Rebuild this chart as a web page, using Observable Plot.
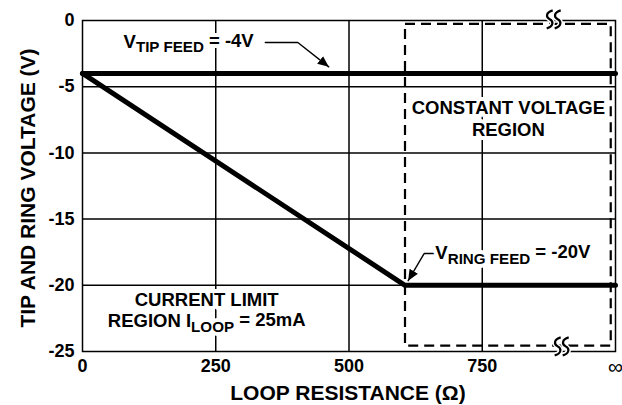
<!DOCTYPE html>
<html>
<head>
<meta charset="utf-8">
<script src="https://cdn.jsdelivr.net/npm/d3@7"></script>
<script src="https://cdn.jsdelivr.net/npm/@observablehq/plot@0.6"></script>
<style>
  html, body { margin: 0; padding: 0; background: #fff; }
  #chart svg { font-family: "Liberation Sans", Arial, Helvetica, sans-serif; font-weight: bold; }
</style>
</head>
<body>
<div id="chart"></div>
<script>
// ---- data ----
const xTicks = [0, 250, 500, 750, 1000];
const xTickLabels = ["0", "250", "500", "750", "\u221E"];
const yTicks = [0, -5, -10, -15, -20, -25];
const yTickLabels = ["0", "-5", "-10", "-15", "-20", "-25"];

// tip feed (constant -4V)
const tipX = [0, 1000];
const tipV = [-4, -4];
// ring feed (current limited slope, then constant -20V)
const ringX = [0, 605, 1000];
const ringV = [-4, -20, -20];

// constant voltage region box
const boxX = [606, 992];
const boxV = [-0.3, -24.6];

// annotation leaders
const tipLeaderX = [343, 404, 462];
const tipLeaderV = [-1.66, -1.66, -3.5];
const ringLeaderX = [660, 641, 611];
const ringLeaderV = [-17.6, -17.6, -19.65];

// feed labels (left-anchored) and region labels (centred)
const feedLabels = [
  {x: 77, v: -1.6, text: "V{TIP FEED} = -4V"},
  {x: 662, v: -17.6, text: "V{RING FEED} = -20V"}
];
const regionLabels = [
  {x: 799, v: -6.65, text: "CONSTANT VOLTAGE"},
  {x: 799, v: -8.25, text: "REGION"},
  {x: 233, v: -21.1, text: "CURRENT LIMIT"},
  {x: 233, v: -22.7, text: "REGION I{LOOP} = 25mA"}
];
// axis-break marks on the box
const breakX = [885, 900];
const breakV = [0.05, -24.65];

// ---- build ----
const tip = tipX.map((x, i) => ({x, v: tipV[i]}));
const ring = ringX.map((x, i) => ({x, v: ringV[i]}));
const leaders = [
  ...tipLeaderX.map((x, i) => ({x, v: tipLeaderV[i], k: "tip"})),
  ...ringLeaderX.map((x, i) => ({x, v: ringLeaderV[i], k: "ring"}))
];
const breaks = breakX.map((x, i) => ({x, v: breakV[i]}));

const textOpts = {x: "x", y: "v", text: "text", fontSize: 18.5, fontWeight: "bold"};
const halo = {fill: "white", stroke: "white", strokeWidth: 8};

const plot = Plot.plot({
  width: 622,
  height: 405,
  marginLeft: 82,
  marginRight: 7,
  marginTop: 20,
  marginBottom: 54,
  style: {fontSize: "18px", fontFamily: "Liberation Sans, Arial, sans-serif", fontWeight: "bold", color: "black", background: "white"},
  x: {domain: [0, 1000], ticks: xTicks, tickFormat: d => xTickLabels[xTicks.indexOf(d)], tickSize: 0, tickPadding: 8, label: null},
  y: {domain: [-25, 0], ticks: yTicks, tickFormat: d => yTickLabels[yTicks.indexOf(d)], tickSize: 0, tickPadding: 8, label: null},
  marks: [
    Plot.gridX(xTicks.slice(1, 4), {stroke: "black", strokeOpacity: 1, strokeWidth: 1.5}),
    Plot.gridY(yTicks.slice(1, 5), {stroke: "black", strokeOpacity: 1, strokeWidth: 1.5}),
    Plot.frame({stroke: "black", strokeWidth: 1.5}),
    Plot.rect([{x1: boxX[0], x2: boxX[1], y1: boxV[0], y2: boxV[1]}], {x1: "x1", x2: "x2", y1: "y1", y2: "y2", fill: "none", stroke: "black", strokeWidth: 2.2, strokeDasharray: "10,6"}),
    Plot.line(tip, {x: "x", y: "v", stroke: "black", strokeWidth: 5}),
    Plot.line(ring, {x: "x", y: "v", stroke: "black", strokeWidth: 5, strokeLinejoin: "miter"}),
    Plot.line(leaders, {x: "x", y: "v", z: "k", stroke: "black", strokeWidth: 1.4, markerEnd: "arrow"}),
    Plot.text(feedLabels, {...textOpts, textAnchor: "start", ...halo}),
    Plot.text(regionLabels, {...textOpts, textAnchor: "middle", ...halo}),
    Plot.text(feedLabels, {...textOpts, textAnchor: "start", fill: "black"}),
    Plot.text(regionLabels, {...textOpts, textAnchor: "middle", fill: "black"})
  ]
});

const svg = d3.select(plot);
const sx = plot.scale("x"), sy = plot.scale("y");
const xs = d3.scaleLinear().domain(sx.domain).range(sx.range);
const ys = d3.scaleLinear().domain(sy.domain).range(sy.range);

// axis titles
svg.append("text").attr("x", 348).attr("y", 400).attr("text-anchor", "middle")
  .attr("font-size", 21).attr("font-weight", "bold").attr("fill", "black")
  .text("LOOP RESISTANCE (\u03A9)");
svg.append("text").attr("transform", "translate(35,188) rotate(-90)").attr("text-anchor", "middle")
  .attr("font-size", 21).attr("font-weight", "bold").attr("fill", "black")
  .text("TIP AND RING VOLTAGE (V)");

// subscripts
svg.selectAll("text").each(function() {
  const t = this.textContent;
  if (!t.includes("{")) return;
  const m = t.match(/^(.*?)\{(.*?)\}(.*)$/);
  const el = d3.select(this);
  el.text(null);
  el.append("tspan").text(m[1]);
  el.append("tspan").attr("font-size", "0.82em").attr("dy", "0.32em").text(m[2]);
  el.append("tspan").attr("dy", "-0.32em").text(m[3]);
});

// filled arrowheads
svg.selectAll("marker")
  .attr("markerUnits", "userSpaceOnUse").attr("markerWidth", 22).attr("markerHeight", 22);
svg.selectAll("marker path").attr("d", "M-5,-2.2L0,0L-5,2.2Z").attr("fill", "black").attr("stroke", "none");

// infinity glyph: lighter weight
svg.selectAll("text").filter(function() { return this.textContent === "\u221E"; })
  .attr("font-weight", "normal").attr("font-size", 21);

// break marks (two wavy strokes), positioned through the scales
const wave = "M3,-9 C-4,-7 -4,-2 0,0 C4,2 4,7 -3,9";
breaks.forEach(b => {
  const g = svg.append("g").attr("transform", `translate(${xs(b.x)},${ys(b.v)})`);
  [-4, 4].forEach(dx => g.append("path").attr("d", wave).attr("transform", `translate(${dx},0)`)
    .attr("fill", "none").attr("stroke", "white").attr("stroke-width", 5));
  [-4, 4].forEach(dx => g.append("path").attr("d", wave).attr("transform", `translate(${dx},0)`)
    .attr("fill", "none").attr("stroke", "black").attr("stroke-width", 2.2));
});

document.getElementById("chart").appendChild(plot);
</script>
</body>
</html>
